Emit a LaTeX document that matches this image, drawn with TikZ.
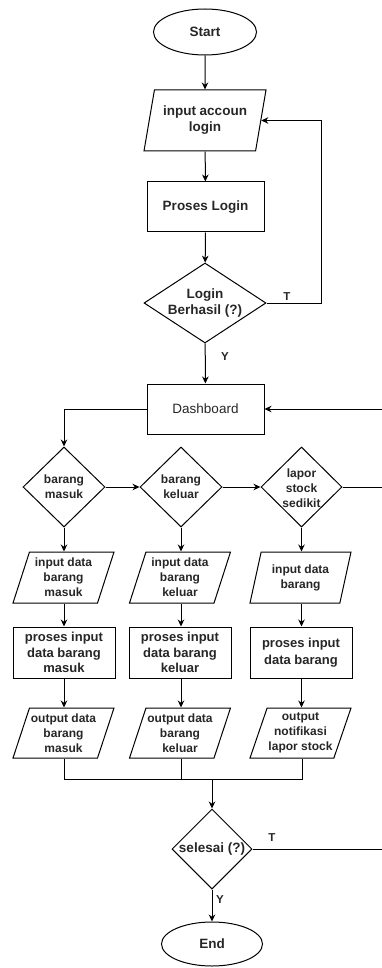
\documentclass[tikz,border=0pt]{standalone}
\usepackage{fontspec}
\setmainfont{Liberation Sans}
\usetikzlibrary{shapes.geometric,arrows.meta}
\begin{document}
\begin{tikzpicture}[x=1pt,y=-1pt,
  line width=1pt,
  base/.style={draw=black, line width=1pt, inner sep=0pt, align=center, text=black!85},
  big/.style={font=\fontsize{13.5}{16}\selectfont\bfseries},
  small/.style={font=\fontsize{12}{15}\selectfont\bfseries},
  term/.style={base, big, ellipse},
  proc/.style={base, rectangle},
  para/.style={base, trapezium, trapezium left angle=67, trapezium right angle=113, trapezium stretches body=true},
  dia/.style={base, diamond},
  dtext/.style={inner sep=0pt, align=center, text=black!85},
  lbl/.style={inner sep=0pt, text=black!85, font=\fontsize{11.5}{13}\selectfont\bfseries},
  flow/.style={draw=black, line width=1pt, -{Stealth[length=7pt,width=6.5pt]}},
  line/.style={draw=black, line width=1pt}
]
\useasboundingbox (0,0) rectangle (382,968);
\clip (0,0) rectangle (382,968);

% main column
\node[term, minimum width=103pt, minimum height=46pt] (start) at (205,32) {Start};
\node[para, big, trapezium left angle=70, trapezium right angle=110, minimum width=122pt, minimum height=61pt] (in) at (205,120.5) {input accoun\\login};
\node[proc, big, minimum width=117pt, minimum height=50pt] (pl) at (205.5,207) {Proses Login};
\node[dia, minimum width=122pt, minimum height=80pt] (login) at (205,303) {};
\node[dtext, big] (logint) at (login) {Login\\Berhasil (?)};
\node[proc, font=\fontsize{13.5}{16}\selectfont, minimum width=117pt, minimum height=50pt] (dash) at (205.5,409) {Dashboard};

% decisions row
\node[dia, minimum width=82pt, minimum height=80pt] (d1) at (64,487) {};
\node[dtext, small] (d1t) at (d1) {barang\\masuk};
\node[dia, minimum width=82pt, minimum height=80pt] (d2) at (181,487) {};
\node[dtext, small] (d2t) at (d2) {barang\\keluar};
\node[dia, minimum width=81pt, minimum height=80pt] (d3) at (301.5,487) {};
\node[dtext, small] (d3t) at ([yshift=-1pt]d3) {lapor\\stock\\sedikit};

% inputs
\node[para, small, minimum width=101pt, minimum height=51pt] (i1) at (63.5,577.5) {input data\\barang\\masuk};
\node[para, small, minimum width=101pt, minimum height=51pt] (i2) at (180,577.5) {input data\\barang\\keluar};
\node[para, small, minimum width=101pt, minimum height=51pt] (i3) at (300.5,577.5) {input data\\barang};

% processes
\node[proc, font=\fontsize{13}{15.5}\selectfont\bfseries, minimum width=102pt, minimum height=51pt] (r1) at (64,652.5) {proses input\\data barang\\masuk};
\node[proc, font=\fontsize{13}{15.5}\selectfont\bfseries, minimum width=102pt, minimum height=51pt] (r2) at (180,652.5) {proses input\\data barang\\keluar};
\node[proc, font=\fontsize{13}{16.5}\selectfont\bfseries, minimum width=102pt, minimum height=51pt] (r3) at (301,652.5) {proses input\\data barang};

% outputs
\node[para, small, minimum width=101pt, minimum height=50pt] (o1) at (63.5,733) {output data\\barang\\masuk};
\node[para, small, minimum width=101pt, minimum height=50pt] (o2) at (180,733) {output data\\barang\\keluar};
\node[para, small, minimum width=101pt, minimum height=50pt] (o3) at (300.5,733) {output\\notifikasi\\lapor stock};

% end part
\node[dia, minimum width=80pt, minimum height=80pt] (sel) at (212,849) {};
\node[dtext, big] (selt) at (sel) {selesai (?)};
\node[term, minimum width=101pt, minimum height=44pt] (end) at (212,944) {End};

\coordinate (loopc) at (321,303);
\coordinate (mL) at (64,779);
\coordinate (mM) at (181,779);
\coordinate (mR) at (302,779);
\coordinate (mJ) at (212,779);
\coordinate (rb) at (388,849);
\coordinate (rt) at (388,409);
\coordinate (rm) at (388,487);

% connectors
\draw[flow] (start) -- (in);
\draw[flow] (in) -- (pl);
\draw[flow] (pl) -- (login);
\draw[flow] (login.east) -- (loopc) |- (in.east);
\node[lbl] (tlogin) at (287,297) {T};
\draw[flow] (login) -- (dash);
\node[lbl] (ylogin) at (225,357) {Y};

\draw[flow] (dash.west) -| (d1.north);
\draw[flow] (d1.east) -- (d2.west);
\draw[flow] (d2.east) -- (d3.west);
\draw[line] (d3.east) -- (rm);

\draw[flow] (d1.south) -- (i1.north -| d1.south);
\draw[flow] (d2.south) -- (i2.north -| d2.south);
\draw[flow] (d3.south) -- (i3.north -| d3.south);
\draw[flow] (i1.south -| d1.south) -- (r1.north -| d1.south);
\draw[flow] (i2.south -| d2.south) -- (r2.north -| d2.south);
\draw[flow] (i3.south -| d3.south) -- (r3.north -| d3.south);
\draw[flow] (r1.south -| d1.south) -- (o1.north -| d1.south);
\draw[flow] (r2.south -| d2.south) -- (o2.north -| d2.south);
\draw[flow] (r3.south -| d3.south) -- (o3.north -| d3.south);

\draw[line] (o1.south -| mL) -- (mL) -- (mR) -- (o3.south -| mR);
\draw[line] (o2.south -| mM) -- (mM);
\draw[flow] (mJ) -- (sel.north);

\draw[flow] (sel.east) -- (rb) -- (rt) -- (dash.east);
\node[lbl] (tsel) at (272,838) {T};
\draw[flow] (sel) -- (end);
\node[lbl] (ysel) at (220,900) {Y};
\end{tikzpicture}
\end{document}
